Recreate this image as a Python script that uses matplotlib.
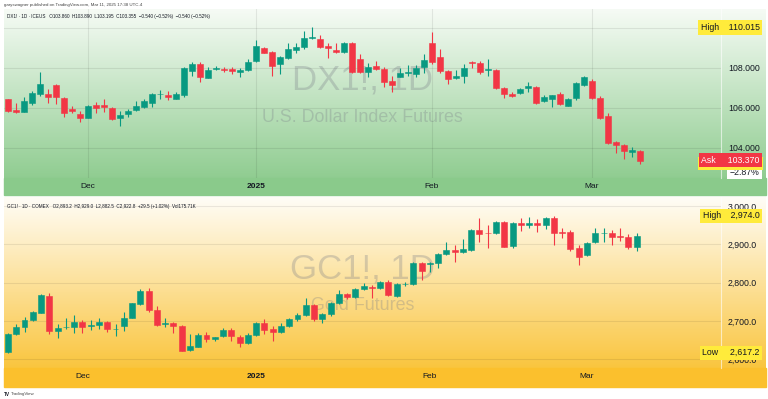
import numpy as np
import matplotlib
matplotlib.use('Agg')
import matplotlib.pyplot as plt
from matplotlib import transforms
from matplotlib.colors import LinearSegmentedColormap
from matplotlib.patches import Rectangle

plt.rcParams['font.family'] = ['Liberation Sans', 'DejaVu Sans']

# DX1! daily bars (ICE), mid Nov 2024 -> Mar 11 2025
dx_open = [106.42, 105.90, 105.80, 106.25, 106.70, 106.68, 107.12, 106.50, 105.92, 105.68,
           105.50, 106.15, 106.12, 106.00, 105.47, 105.67, 105.87, 106.05, 106.25, 106.68,
           106.64, 106.43, 106.64, 107.85, 108.20, 107.50, 107.92, 107.95, 107.92, 107.80,
           107.87, 108.35, 109.00, 108.78, 108.18, 108.50, 108.88, 109.05, 109.50, 109.43,
           109.10, 108.88, 108.80, 109.25, 108.45, 107.80, 108.07, 107.95, 107.35, 107.55,
           107.73, 107.70, 108.02, 109.23, 108.53, 107.82, 107.50, 107.58, 108.28, 108.25,
           107.90, 107.88, 107.00, 106.67, 106.72, 106.97, 107.02, 106.35, 106.43, 106.68,
           106.10, 106.47, 107.13, 107.35, 106.47, 105.58, 104.28, 104.13, 103.77, 103.86]
dx_high = [106.45, 106.25, 106.55, 106.83, 107.80, 106.92, 107.17, 106.55, 106.08, 105.83,
           106.13, 106.30, 106.42, 106.05, 105.85, 105.92, 106.33, 106.42, 106.75, 106.88,
           106.83, 106.77, 108.02, 108.27, 108.28, 108.02, 108.07, 108.03, 108.02, 108.00,
           108.42, 109.38, 109.05, 108.83, 108.58, 109.22, 109.25, 109.85, 110.015, 109.63,
           109.25, 109.25, 109.30, 109.30, 108.67, 108.25, 108.35, 108.02, 107.58, 107.97,
           108.12, 108.12, 108.67, 109.77, 108.92, 107.88, 107.88, 108.20, 108.32, 108.32,
           108.45, 107.92, 107.05, 106.78, 107.00, 107.30, 107.08, 106.65, 106.65, 106.78,
           106.48, 107.28, 107.60, 107.42, 106.58, 105.72, 104.35, 104.18, 104.02, 103.89]
dx_low = [105.80, 105.72, 105.80, 106.13, 106.60, 106.25, 106.18, 105.52, 105.72, 105.30,
          105.50, 105.75, 105.80, 105.38, 105.08, 105.52, 105.83, 106.00, 106.05, 106.42,
          106.38, 106.42, 106.55, 107.60, 107.30, 107.47, 107.88, 107.78, 107.70, 107.55,
          107.82, 108.30, 108.72, 107.60, 107.68, 108.42, 108.72, 108.95, 109.45, 109.00,
          108.47, 108.72, 108.72, 107.72, 107.72, 107.55, 107.88, 107.05, 106.80, 107.52,
          107.60, 107.52, 107.72, 108.17, 107.72, 107.17, 107.42, 107.22, 107.97, 107.68,
          107.58, 106.92, 106.47, 106.55, 106.68, 106.80, 106.18, 106.28, 106.02, 106.13,
          106.08, 106.38, 107.10, 106.42, 105.45, 104.18, 103.72, 103.43, 103.55, 103.195]
dx_close = [105.85, 105.80, 106.33, 106.75, 107.17, 106.53, 106.53, 105.75, 105.82, 105.49,
            106.08, 106.00, 106.02, 105.42, 105.63, 105.83, 106.10, 106.35, 106.70, 106.70,
            106.55, 106.67, 107.97, 108.17, 107.55, 107.87, 108.00, 107.88, 107.83, 107.87,
            108.30, 109.08, 108.75, 108.10, 108.53, 108.92, 109.02, 109.50, 109.52, 109.03,
            108.97, 108.77, 109.25, 107.80, 107.77, 108.03, 107.95, 107.27, 107.13, 107.73,
            107.80, 107.98, 108.37, 108.30, 107.82, 107.45, 107.58, 107.98, 108.22, 107.77,
            107.92, 106.97, 106.68, 106.60, 106.93, 107.08, 106.25, 106.55, 106.62, 106.18,
            106.42, 107.22, 107.52, 106.47, 105.50, 104.22, 104.13, 103.83, 103.895, 103.355]
dx_months = ['Dec', '2025', 'Feb', 'Mar']
dx_month_idx = [10, 31, 53, 73]
dx_ticks = [104, 106, 108, 110]
dx_ask = 103.370
dx_ask_pct = '−2.87%'

# GC1! daily bars (COMEX), same period
gc_open = [2620.0, 2665.2, 2684.4, 2702.6, 2721.7, 2766.1, 2674.8, 2683.5, 2684.4, 2698.3,
           2686.1, 2690.4, 2698.3, 2679.1, 2687.8, 2708.7, 2744.3, 2778.3, 2728.7, 2692.2,
           2695.7, 2687.0, 2623.5, 2633.0, 2662.6, 2652.2, 2660.9, 2677.4, 2659.1, 2643.5,
           2663.5, 2693.8, 2678.2, 2671.2, 2686.9, 2704.3, 2715.6, 2741.7, 2705.1, 2717.3,
           2746.0, 2769.5, 2763.4, 2783.4, 2789.5, 2786.9, 2802.6, 2766.0, 2795.6, 2796.5,
           2852.1, 2848.6, 2850.4, 2874.7, 2885.2, 2879.1, 2885.2, 2937.3, 2929.5, 2928.6,
           2959.1, 2895.7, 2954.8, 2950.4, 2956.5, 2950.4, 2969.6, 2931.3, 2931.3, 2889.6,
           2872.2, 2905.2, 2928.7, 2928.7, 2920.9, 2920.0, 2893.2]
gc_high = [2667.8, 2692.0, 2709.6, 2727.0, 2770.4, 2772.2, 2691.3, 2706.9, 2715.6, 2702.6,
           2702.6, 2706.9, 2700.9, 2691.3, 2724.3, 2747.8, 2782.6, 2785.2, 2740.0, 2706.9,
           2698.3, 2689.6, 2665.2, 2667.8, 2670.4, 2659.1, 2680.9, 2680.9, 2663.5, 2667.8,
           2698.3, 2704.3, 2686.9, 2693.8, 2706.9, 2720.0, 2759.1, 2744.3, 2720.0, 2750.4,
           2780.8, 2772.1, 2785.1, 2798.2, 2793.8, 2805.1, 2806.9, 2798.2, 2802.6, 2853.9,
           2854.7, 2854.7, 2878.2, 2906.9, 2898.2, 2913.0, 2939.1, 2967.8, 2950.4, 2961.7,
           2961.7, 2959.1, 2967.8, 2972.2, 2966.1, 2972.2, 2974.0, 2941.7, 2937.4, 2898.3,
           2907.0, 2941.7, 2941.7, 2937.4, 2941.7, 2926.1, 2929.0]
gc_low = [2617.2, 2663.5, 2672.2, 2700.9, 2720.0, 2666.1, 2654.8, 2678.3, 2669.6, 2669.6,
          2676.5, 2678.3, 2672.2, 2661.0, 2674.8, 2707.0, 2742.6, 2724.3, 2687.0, 2685.2,
          2669.6, 2621.7, 2621.7, 2631.3, 2646.1, 2648.7, 2657.4, 2648.7, 2633.0, 2640.0,
          2661.7, 2666.0, 2648.6, 2667.8, 2683.4, 2700.8, 2713.0, 2700.8, 2695.6, 2713.0,
          2743.4, 2756.5, 2759.1, 2780.8, 2759.1, 2783.4, 2765.2, 2763.4, 2791.2, 2794.7,
          2806.9, 2828.7, 2837.4, 2872.1, 2854.7, 2876.5, 2883.4, 2906.9, 2889.5, 2926.9,
          2892.1, 2891.3, 2934.8, 2941.7, 2933.0, 2940.0, 2898.3, 2915.7, 2882.6, 2846.1,
          2870.4, 2902.6, 2905.2, 2898.3, 2908.7, 2887.8, 2882.5]
gc_close = [2665.2, 2685.2, 2702.6, 2722.6, 2767.8, 2674.8, 2682.6, 2685.2, 2698.3, 2685.2,
            2690.4, 2698.3, 2679.1, 2679.5, 2706.9, 2746.1, 2778.3, 2728.7, 2689.6, 2695.7,
            2687.0, 2622.6, 2633.9, 2663.5, 2652.2, 2657.4, 2677.4, 2660.9, 2643.5, 2663.5,
            2695.7, 2676.4, 2671.2, 2686.9, 2704.3, 2715.6, 2741.7, 2705.1, 2717.3, 2746.0,
            2770.4, 2763.4, 2782.5, 2791.2, 2786.0, 2801.7, 2766.9, 2796.5, 2797.0, 2852.1,
            2831.3, 2852.1, 2874.7, 2885.2, 2880.8, 2886.9, 2937.3, 2926.9, 2928.6, 2959.1,
            2893.9, 2954.8, 2950.4, 2956.5, 2950.4, 2969.6, 2928.7, 2930.4, 2887.8, 2867.8,
            2904.3, 2928.7, 2929.5, 2920.0, 2920.0, 2893.3, 2922.8]
gc_months = ['Dec', '2025', 'Feb', 'Mar']
gc_month_idx = [9, 30, 51, 70]
gc_ticks = [2600, 2700, 2800, 2900, 3000]
gc_volume = '175.71K'

UP, DN = '#089981', '#f23645'
TXT = '#131722'
W, H = 768, 399


def px(x0, y0, x1, y1):
    return [x0 / W, 1 - y1 / H, (x1 - x0) / W, (y1 - y0) / H]


def candles(ax, o, h, l, c, width):
    o, h, l, c = map(np.asarray, (o, h, l, c))
    x = np.arange(len(o))
    col = np.where(c >= o, UP, DN)
    ax.vlines(x, l, h, colors=col, lw=0.8, zorder=2)
    ax.bar(x, c - o, bottom=o, width=width, color=col, edgecolor=col, lw=0.4, zorder=3)


def style(ax, months, month_idx, ticks, labels):
    ax.set_facecolor('none')
    ax.yaxis.tick_right()
    ax.set_yticks(ticks)
    ax.set_yticklabels(labels)
    ax.set_xticks(month_idx)
    ax.set_xticklabels(months)
    for lab in ax.get_xticklabels():
        if lab.get_text() == '2025':
            lab.set_fontweight('bold')
    ax.tick_params(axis='y', length=0, pad=5, labelsize=6.3, labelcolor=TXT)
    ax.tick_params(axis='x', length=0, pad=3.5, labelsize=6, labelcolor=TXT)
    for s in ['top', 'left', 'bottom']:
        ax.spines[s].set_visible(False)
    ax.spines['right'].set_color('#ffffff')
    ax.spines['right'].set_alpha(0.6)
    ax.spines['right'].set_linewidth(0.8)


def tag(ax, value, text, fc, tc):
    tr = transforms.blended_transform_factory(ax.transAxes, ax.transData)
    return ax.text(1.054, value, text, transform=tr, ha='right', va='center', fontsize=6.3,
                   color=tc, zorder=6, clip_on=False,
                   bbox=dict(boxstyle='square,pad=0.3', fc=fc, ec='none'))


fig = plt.figure(figsize=(W / 100, H / 100), dpi=100)

# pane backgrounds
bg = fig.add_axes([0, 0, 1, 1], zorder=-10)
grad = np.linspace(0, 1, 256).reshape(-1, 1)
green = LinearSegmentedColormap.from_list('green', ['#f6fbf5', '#86c887'])
amber = LinearSegmentedColormap.from_list('amber', ['#fffdf7', '#f9bf2a'])
bg.imshow(grad, cmap=green, extent=(4, 766, 195, 9), aspect='auto')
bg.imshow(grad, cmap=amber, extent=(4, 766, 387, 197), aspect='auto')
bg.add_patch(Rectangle((4, 178), 762, 17, color='#8aca8b'))
bg.add_patch(Rectangle((4, 368), 762, 19, color='#fbc02d'))
bg.set_xlim(0, W)
bg.set_ylim(H, 0)
bg.axis('off')

fig.text(4 / W, 1 - 5 / H, 'garyswagner published on TradingView.com, Mar 11, 2025 17:38 UTC-4',
         fontsize=3.2, color='#444444', va='center')
fig.text(4 / W, 1 - 394 / H, 'TV', fontsize=3.4, fontweight='bold', color=TXT, va='center')
fig.text(11 / W, 1 - 394 / H, 'TradingView', fontsize=3.2, color='#444444', va='center')

# ---- DX1! pane
ax1 = fig.add_axes(px(4, 9, 721, 178))
candles(ax1, dx_open, dx_high, dx_low, dx_close, 0.74)
ax1.set_xlim(-0.46, 89.16)
ax1.set_ylim(102.485, 110.935)
# 110.000 label sits under the High tag
style(ax1, dx_months, dx_month_idx, dx_ticks,
      ['' if t == 110 else f'{t:.3f}' for t in dx_ticks])
ax1.grid(color='#000000', alpha=0.08, lw=0.8)

ax1.text(0.5, 0.521, 'DX1!, 1D', transform=ax1.transAxes, ha='center', va='baseline',
         fontsize=25, color='#787b86', alpha=0.3, zorder=0)
ax1.text(0.5, 0.331, 'U.S. Dollar Index Futures', transform=ax1.transAxes, ha='center',
         va='baseline', fontsize=12.9, color='#787b86', alpha=0.3, zorder=0)

chg = dx_close[-1] - dx_close[-2]
pct = chg / dx_close[-2] * 100
s = f'{chg:+.3f} ({pct:+.2f}%)'.replace('-', '−')
ax1.text(0.004, 0.953, f'DX1! · 1D · ICEUS   O{dx_open[-1]:.3f}  H{dx_high[-1]:.3f}  '
         f'L{dx_low[-1]:.3f}  C{dx_close[-1]:.3f}  {s}  {s}',
         transform=ax1.transAxes, fontsize=3.3, color=TXT, va='center')

tr1 = transforms.blended_transform_factory(ax1.transAxes, ax1.transData)
tag(ax1, max(dx_high), f'High    {max(dx_high):.3f}', '#ffeb3b', TXT)
# low tag is hidden behind the ask tag, only its yellow edge shows
ax1.add_patch(Rectangle((0.968, min(dx_low) - 0.32), 0.09, 0.64, transform=tr1,
                        fc='#ffeb3b', ec='none', clip_on=False, zorder=5))
ax1.annotate(dx_ask_pct, xy=(1.054, dx_ask), xycoords=tr1, xytext=(0, -8.6),
             textcoords='offset points', ha='right', va='center', fontsize=6.3, color=TXT,
             annotation_clip=False, zorder=4,
             bbox=dict(boxstyle='square,pad=0.3', fc='white', ec='none'))
tag(ax1, dx_ask, f'Ask     {dx_ask:.3f}', '#f23645', 'white')

# ---- GC1! pane
ax2 = fig.add_axes(px(4, 197, 721, 368))
candles(ax2, gc_open, gc_high, gc_low, gc_close, 0.72)
ax2.set_xlim(-0.48, 86.2)
ax2.set_ylim(2577.3, 3023.4)
style(ax2, gc_months, gc_month_idx, gc_ticks, [f'{t:,.1f}' for t in gc_ticks])
ax2.grid(axis='y', color='#000000', alpha=0.08, lw=0.8)

ax2.text(0.5, 0.526, 'GC1!, 1D', transform=ax2.transAxes, ha='center', va='baseline',
         fontsize=25, color='#787b86', alpha=0.3, zorder=0)
ax2.text(0.5, 0.339, 'Gold Futures', transform=ax2.transAxes, ha='center',
         va='baseline', fontsize=12.9, color='#787b86', alpha=0.3, zorder=0)

chg = gc_close[-1] - gc_close[-2]
pct = chg / gc_close[-2] * 100
ax2.text(0.004, 0.947, f'GC1! · 1D · COMEX   O{gc_open[-1]:,.1f}  H{gc_high[-1]:,.1f}  '
         f'L{gc_low[-1]:,.1f}  C{gc_close[-1]:,.1f}  {chg:+.1f} ({pct:+.2f}%)  Vol{gc_volume}',
         transform=ax2.transAxes, fontsize=3.3, color=TXT, va='center')

tag(ax2, max(gc_high), f'High    {max(gc_high):,.1f}', '#ffeb3b', TXT)
tag(ax2, min(gc_low), f'Low     {min(gc_low):,.1f}', '#ffeb3b', TXT)

fig.savefig('out.png', dpi=100)
